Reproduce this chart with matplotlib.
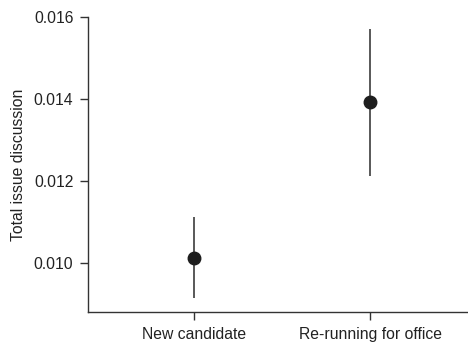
import matplotlib.pyplot as plt

plt.rcParams['font.family'] = ['Liberation Sans', 'DejaVu Sans']

# Datos
grupos = ['New candidate', 'Re-running for office']
estimado = [0.01013, 0.01391]
ic_bajo = [0.00915, 0.01212]
ic_alto = [0.01112, 0.01570]
y_ticks = [0.010, 0.012, 0.014, 0.016]

fig = plt.figure(figsize=(4.68, 3.46), dpi=100)
ax = fig.add_axes([0.188, 0.098, 0.81, 0.854])

xs = [i + 1 for i in range(len(grupos))]
ax.vlines(xs, ic_bajo, ic_alto, color='#333333', linewidth=1.15)
ax.plot(xs, estimado, 'o', color='#1e1e1e', markersize=9)

ax.set_xlim(0.4, 2.55)
ax.set_ylim(0.00881, 0.016)
ax.set_xticks(xs)
ax.set_xticklabels(grupos)
ax.set_yticks(y_ticks)
ax.set_yticklabels([f'{v:.3f}' for v in y_ticks])
ax.set_ylabel('Total issue discussion', fontsize=11.3, color='#222222', labelpad=5.5)

for s in ['top', 'right']:
    ax.spines[s].set_visible(False)
for s in ['left', 'bottom']:
    ax.spines[s].set_color('#333333')
    ax.spines[s].set_linewidth(1.0)
ax.tick_params(length=5.5, width=1.0, color='#333333', labelsize=11.3,
               labelcolor='#222222', pad=5)

fig.savefig('out.png', dpi=100)
